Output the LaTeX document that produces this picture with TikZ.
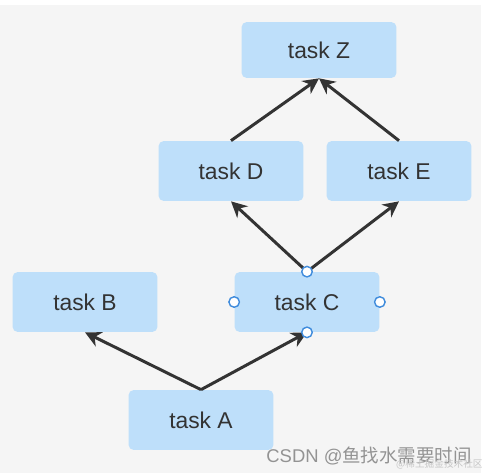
\documentclass[tikz,border=0pt]{standalone}
\usepackage{fontspec}
\setmainfont{Liberation Sans}
\newfontfamily\cjk{Noto Sans CJK SC}
\usetikzlibrary{arrows.meta}
\definecolor{taskfill}{RGB}{190,223,250}
\definecolor{handleblue}{RGB}{64,140,220}
\definecolor{canvas}{RGB}{245,245,245}
\definecolor{inkgray}{RGB}{51,51,51}

\begin{document}
\begin{tikzpicture}[x=0.02cm, y=-0.02cm,
    task/.style={fill=taskfill, rounded corners=3pt, minimum width=2.9cm,
                 minimum height=1.2cm, text=inkgray, font=\fontsize{13}{15}\selectfont},
    dep/.style={-{Stealth[length=9pt, width=9pt]}, line width=1.7pt, draw=inkgray},
    handle/.style={circle, draw=handleblue, fill=white, line width=0.8pt,
                   inner sep=0pt, minimum size=6pt}]
  \useasboundingbox (0,0) rectangle (487,473);
  \fill[white] (0,0) rectangle (487,473);
  \fill[canvas] (0,5) rectangle (481,473);
  % tasks
  \node[task, minimum width=3.1cm, minimum height=1.12cm] (taskZ) at (319,50) {task Z};
  \node[task] (taskD) at (231,171) {task D};
  \node[task] (taskE) at (399,171) {task E};
  \node[task] (taskB) at (85,302) {task B};
  \node[task] (taskC) at (307,302) {task C};
  \node[task] (taskA) at (201,420) {task A};
  % dependencies
  \draw[dep] (taskA.north) -- (taskB.south);
  \draw[dep] (taskA.north) -- (taskC.south);
  \draw[dep] (taskC.north) -- (taskD.south);
  \draw[dep] (taskC.north) -- (taskE.south);
  \draw[dep] (taskD.north) -- (taskZ.south);
  \draw[dep] (taskE.north) -- (taskZ.south);
  % handles of the selected task
  \foreach \a in {north, south, west, east}
    \node[handle] (h-\a) at (taskC.\a) {};
  % watermark
  \node[anchor=south east, text=gray!85, inner sep=0pt,
        font=\fontsize{10.5}{12}\selectfont] (mark) at (472,465) {CSDN @{\cjk 鱼找水需要时间}};
  \node[anchor=south east, text=gray!45, inner sep=0pt,
        font=\cjk\fontsize{5.5}{6}\selectfont] (mark2) at (483,470) {@稀土掘金技术社区};
\end{tikzpicture}
\end{document}
